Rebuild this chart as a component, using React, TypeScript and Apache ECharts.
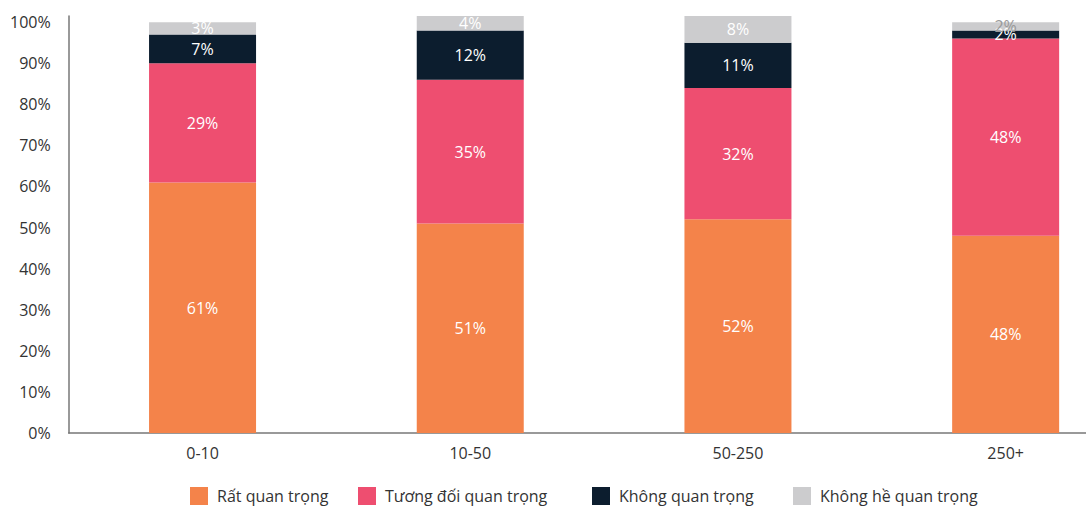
import React, { useEffect, useRef } from "react";
import * as echarts from "echarts";

const categories = ["0-10", "10-50", "50-250", "250+"];
const seriesNames = ["Rất quan trọng", "Tương đối quan trọng", "Không quan trọng", "Không hề quan trọng"];
const veryImportant = [61, 51, 52, 48];
const fairlyImportant = [29, 35, 32, 48];
const notImportant = [7, 12, 11, 2];
const notAtAllImportant = [3, 4, 8, 2];
const colors = ["#F4834A", "#EE4E70", "#0C1D2E", "#CCCCCE"];
const yTicks = [0, 10, 20, 30, 40, 50, 60, 70, 80, 90, 100];
const legendLefts = [190, 358, 592, 793];

export default function App() {
  const ref = useRef<HTMLDivElement>(null);
  useEffect(() => {
    document.body.style.margin = "0";
    const chart = echarts.init(ref.current!, null, { renderer: "svg" });
    const font = "'Open Sans', sans-serif";
    const all = [veryImportant, fairlyImportant, notImportant, notAtAllImportant];
    chart.setOption({
      animation: false,
      textStyle: { fontFamily: font },
      legend: seriesNames.map((n, i) => ({
        left: legendLefts[i],
        top: 487,
        padding: 0,
        itemWidth: 18,
        itemHeight: 18,
        icon: "rect",
        textStyle: { fontSize: 16, color: "#333", fontFamily: font, padding: [0, 0, 0, 4] },
        data: [n],
      })),
      grid: {
        left: 68.7,
        width: 1070.8,
        top: 16,
        bottom: 75,
        containLabel: false,
        outerBoundsMode: "none",
      },
      xAxis: {
        type: "category",
        data: categories,
        axisLine: { lineStyle: { color: "#777", width: 1.5 } },
        axisTick: { show: false },
        axisLabel: { fontSize: 16, color: "#333", margin: 12, fontFamily: font },
      },
      yAxis: {
        type: "value",
        min: yTicks[0],
        max: 101.5,
        interval: 10,
        axisLine: { show: true, lineStyle: { color: "#777", width: 1.5 } },
        axisTick: { show: false },
        splitLine: { show: false },
        axisLabel: {
          fontSize: 16,
          color: "#333",
          margin: 18,
          fontFamily: font,
          showMaxLabel: false,
          formatter: (v: number) => (yTicks.includes(v) ? v + "%" : ""),
        },
      },
      series: all.map((arr, si) => ({
        name: seriesNames[si],
        type: "bar",
        stack: "total",
        barWidth: 107,
        itemStyle: { color: colors[si] },
        label: {
          show: true,
          position: "inside",
          color: "#fff",
          fontSize: 16,
          fontFamily: font,
          formatter: "{c}%",
        },
        data: arr.map((v, ci) =>
          si === 3 && ci === 3 ? { value: v, label: { color: "#999" } } : v
        ),
      })),
    });
    return () => chart.dispose();
  }, []);
  return <div ref={ref} style={{ width: 1086, height: 508 }} />;
}
